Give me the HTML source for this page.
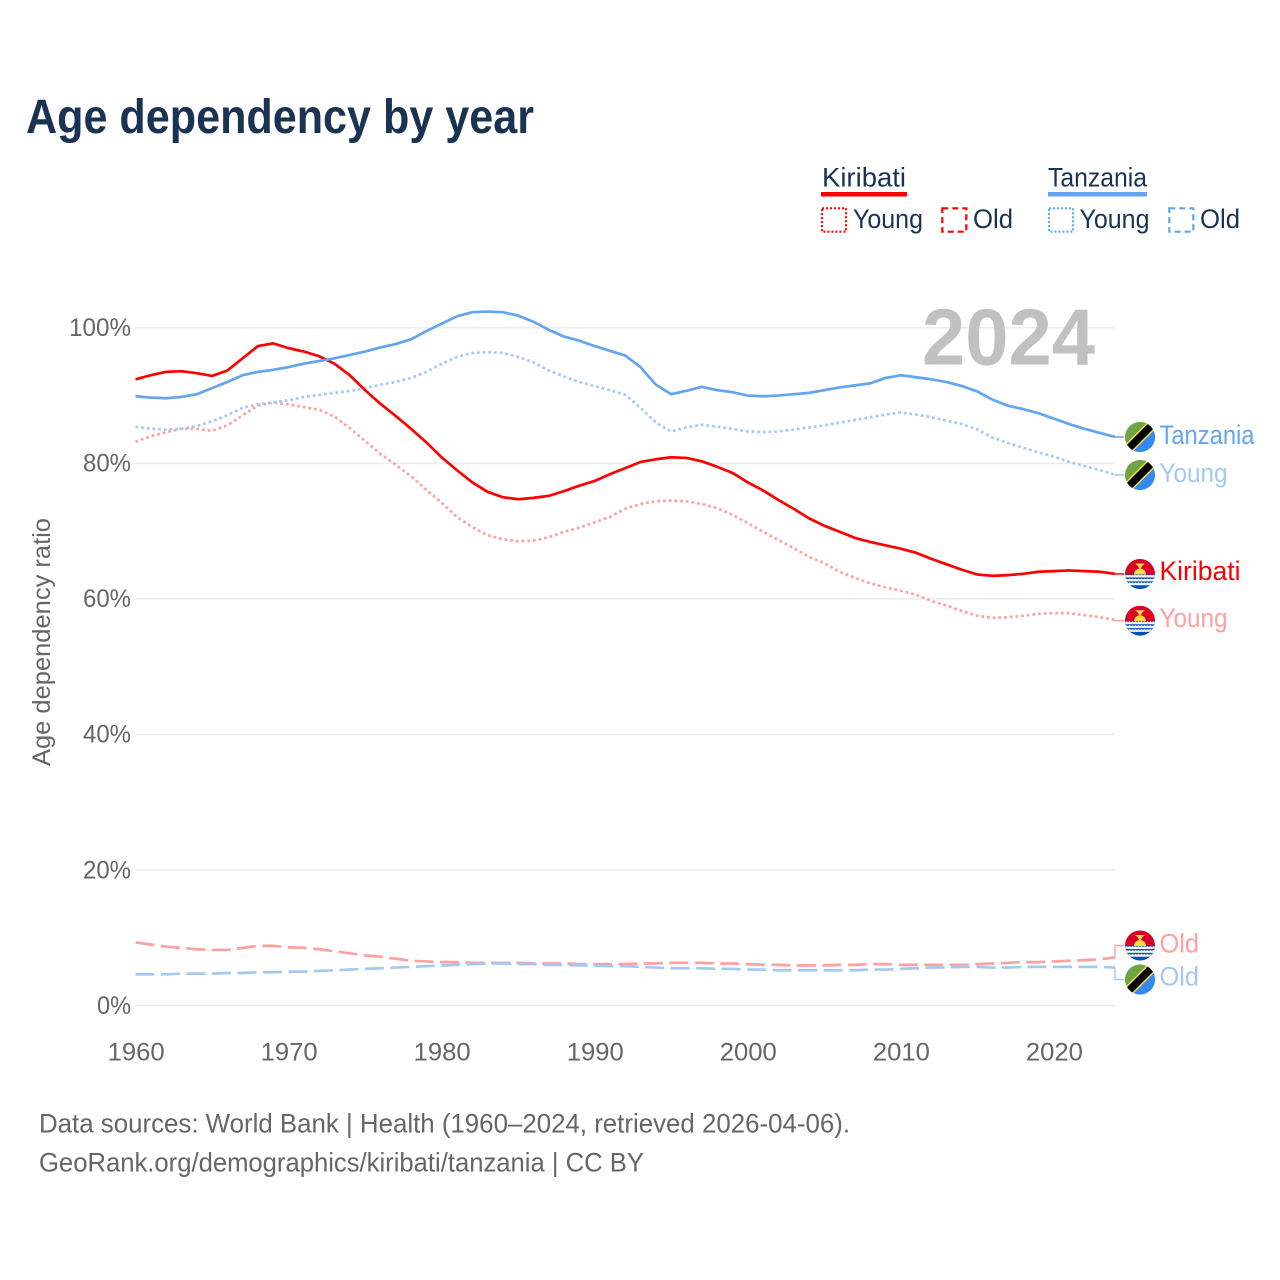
<!DOCTYPE html>
<html lang="en">
<head>
<meta charset="utf-8">
<title>Age dependency by year</title>
<style>
html,body{margin:0;padding:0;background:#fff;width:1280px;height:1280px;overflow:hidden}
svg{display:block}
text{font-family:"Liberation Sans",sans-serif}
</style>
</head>
<body>
<svg id="chart" xmlns="http://www.w3.org/2000/svg" width="1280" height="1280" viewBox="0 0 1280 1280">
  <defs>
    <clipPath id="flag-clip"><circle cx="0" cy="0" r="15"></circle></clipPath>
  </defs>
  <rect x="0" y="0" width="1280" height="1280" fill="#fff"></rect>
  <text x="26" y="133" font-size="48" font-weight="700" fill="#1a3353" textLength="508" lengthAdjust="spacingAndGlyphs">Age dependency by year</text>

  <g font-size="27" fill="#1a3353">
    <text x="822" y="186.5" textLength="84" lengthAdjust="spacingAndGlyphs">Kiribati</text>
    <rect x="821" y="192" width="86" height="4.5" fill="#ff0000"></rect>
    <rect x="822" y="208.3" width="24" height="23.4" fill="none" stroke="#ff0000" stroke-width="2.2" stroke-dasharray="2 2"></rect>
    <text x="853" y="228" textLength="70" lengthAdjust="spacingAndGlyphs">Young</text>
    <rect x="942.3" y="208.3" width="24" height="23.4" fill="none" stroke="#ff0000" stroke-width="2.2" stroke-dasharray="6 4"></rect>
    <text x="973" y="228" textLength="40" lengthAdjust="spacingAndGlyphs">Old</text>
    <text x="1048" y="186.5" textLength="99" lengthAdjust="spacingAndGlyphs">Tanzania</text>
    <rect x="1048" y="192" width="99" height="4.5" fill="#63a5ee"></rect>
    <rect x="1049" y="208.3" width="24" height="23.4" fill="none" stroke="#63a5ee" stroke-width="2.2" stroke-dasharray="2 2"></rect>
    <text x="1079.5" y="228" textLength="70" lengthAdjust="spacingAndGlyphs">Young</text>
    <rect x="1169.3" y="208.3" width="24" height="23.4" fill="none" stroke="#63a5ee" stroke-width="2.2" stroke-dasharray="6 4"></rect>
    <text x="1200" y="228" textLength="40" lengthAdjust="spacingAndGlyphs">Old</text>
  </g>

  <g id="grid"></g>
  <text x="922" y="364.5" font-size="80" font-weight="700" fill="#c1c1c1" textLength="173" lengthAdjust="spacingAndGlyphs">2024</text>
  <g id="yticks" font-size="25" fill="#666"></g>
  <g id="xticks" font-size="25" fill="#666"></g>
  <text transform="translate(50 766) rotate(-90)" font-size="25" fill="#666" textLength="248" lengthAdjust="spacingAndGlyphs">Age dependency ratio</text>
  <g id="series" fill="none"></g>
  <g id="end-labels" font-size="27"></g>

  <g font-size="26.5" fill="#666">
    <text x="39" y="1132.5" textLength="811" lengthAdjust="spacingAndGlyphs">Data sources: World Bank | Health (1960–2024, retrieved 2026-04-06).</text>
    <text x="39" y="1171.5" textLength="605" lengthAdjust="spacingAndGlyphs">GeoRank.org/demographics/kiribati/tanzania | CC BY</text>
  </g>
</svg>
<script>
const years = [];
for (let yr = 1960; yr <= 2024; yr++) years.push(yr);
const xTickYears = [1960, 1970, 1980, 1990, 2000, 2010, 2020];
const yTickValues = [0, 20, 40, 60, 80, 100];

const kiribatiTotal = [
  92.4,93.0,93.5,93.6,93.3,92.9,93.7,95.5,97.3,97.7,
  97.0,96.5,95.8,94.7,93.0,90.8,88.8,87.0,85.1,83.1,
  80.9,79.0,77.2,75.8,75.0,74.7,74.9,75.2,75.9,76.7,
  77.4,78.4,79.3,80.2,80.6,80.9,80.8,80.3,79.5,78.6,
  77.2,76.0,74.6,73.3,71.9,70.8,69.9,69.0,68.4,67.9,
  67.4,66.8,65.9,65.1,64.3,63.6,63.4,63.5,63.7,64.0,
  64.1,64.2,64.1,64.0,63.7
];
const kiribatiYoung = [
  83.2,84.0,84.6,85.1,85.1,84.8,85.6,87.1,88.5,89.0,
  88.7,88.3,87.9,86.9,85.2,83.3,81.4,79.8,78.1,76.1,
  74.2,72.1,70.6,69.4,68.8,68.5,68.6,69.1,69.9,70.5,
  71.3,72.1,73.3,74.0,74.4,74.5,74.4,74.0,73.4,72.4,
  71.2,69.9,68.7,67.5,66.2,65.3,64.0,63.1,62.3,61.7,
  61.2,60.6,59.7,59.0,58.2,57.5,57.2,57.3,57.5,57.8,
  57.9,57.9,57.6,57.3,56.9
];
const kiribatiOld = [
  9.3,9.0,8.7,8.5,8.3,8.2,8.2,8.5,8.8,8.8,
  8.6,8.5,8.3,8.0,7.7,7.4,7.2,6.9,6.6,6.5,
  6.4,6.4,6.3,6.3,6.3,6.3,6.2,6.2,6.2,6.1,
  6.1,6.1,6.1,6.2,6.2,6.3,6.3,6.3,6.2,6.2,
  6.1,6.0,6.0,5.9,5.9,5.9,6.0,6.0,6.1,6.1,
  6.0,6.0,6.0,6.0,6.0,6.1,6.2,6.3,6.4,6.4,
  6.5,6.6,6.7,6.8,7.1
];
const tanzaniaTotal = [
  89.9,89.7,89.6,89.8,90.2,91.1,92.0,93.0,93.5,93.8,
  94.2,94.7,95.1,95.5,96.0,96.5,97.1,97.6,98.3,99.5,
  100.6,101.7,102.3,102.4,102.3,101.8,100.9,99.7,98.7,98.1,
  97.3,96.6,95.9,94.2,91.6,90.2,90.7,91.3,90.8,90.5,
  90.0,89.9,90.0,90.2,90.4,90.8,91.2,91.5,91.8,92.6,
  93.0,92.7,92.4,92.0,91.4,90.6,89.4,88.5,88.0,87.4,
  86.6,85.8,85.1,84.5,83.9
];
const tanzaniaYoung = [
  85.4,85.1,85.0,85.1,85.5,86.2,87.1,88.2,88.7,89.0,
  89.3,89.8,90.1,90.4,90.7,91.1,91.6,92.0,92.6,93.5,
  94.7,95.7,96.3,96.4,96.3,95.7,94.9,93.7,92.8,92.0,
  91.4,90.8,90.1,88.2,86.0,84.7,85.3,85.7,85.4,85.1,
  84.7,84.6,84.7,85.0,85.3,85.6,86.0,86.4,86.8,87.2,
  87.5,87.2,86.8,86.3,85.8,85.0,83.8,83.0,82.3,81.6,
  81.0,80.2,79.6,79.0,78.3
];
const tanzaniaOld = [
  4.6,4.6,4.6,4.7,4.7,4.7,4.8,4.8,4.9,4.9,
  5.0,5.0,5.1,5.2,5.3,5.4,5.5,5.6,5.7,5.8,
  5.9,6.0,6.1,6.2,6.2,6.1,6.1,6.0,6.0,5.9,
  5.9,5.8,5.8,5.7,5.6,5.5,5.5,5.5,5.4,5.4,
  5.3,5.3,5.2,5.2,5.2,5.2,5.2,5.2,5.3,5.3,
  5.4,5.5,5.6,5.6,5.7,5.7,5.6,5.6,5.7,5.7,
  5.7,5.7,5.7,5.7,5.6
];

const NS = 'http://www.w3.org/2000/svg';
const RED = '#ff0000', BLUE = '#63a5ee', LRED = '#ffa0a0', LBLUE = '#a3c9f3';
const xScale = v => 135.5 + (v - 1960) * (1115 - 135.5) / 64;
const yScale = v => 1005.5 - v * 6.777;

function make(tag, attrs, parent) {
  const el = document.createElementNS(NS, tag);
  for (const k in attrs) el.setAttribute(k, attrs[k]);
  parent.appendChild(el);
  return el;
}
const gridG = document.getElementById('grid');
const yG = document.getElementById('yticks');
const xG = document.getElementById('xticks');
const seriesG = document.getElementById('series');
const labelsG = document.getElementById('end-labels');

yTickValues.forEach(v => {
  const line = make('line', {x1: 135.5, x2: 1115, y1: yScale(v), y2: yScale(v), stroke: '#ececec', 'stroke-width': 1.5}, gridG);
  
  
  const t = make('text', {x: 131, y: yScale(v) + 8.3, 'text-anchor': 'end', textLength: v === 100 ? 62 : (v === 0 ? 34 : 48), lengthAdjust: 'spacingAndGlyphs'}, yG);
  t.textContent = v + '%';
  
  
});
xTickYears.forEach(v => {
  const t = make('text', {x: xScale(v) + 0.6, y: 1060.5, 'text-anchor': 'middle', textLength: 57, lengthAdjust: 'spacingAndGlyphs'}, xG);
  t.textContent = String(v);
  
  
});

function linePath(values) {
  return values.map((v, i) => (i ? 'L' : 'M') + xScale(years[i]).toFixed(2) + ' ' + yScale(v).toFixed(2)).join('');
}
function drawSeries(values, color, dash) {
  const attrs = {d: linePath(values), stroke: color, 'stroke-width': 2.7, fill: 'none', 'stroke-linejoin': 'round'};
  if (dash) attrs['stroke-dasharray'] = dash;
  return make('path', attrs, seriesG);
}
let s;
s = drawSeries(kiribatiOld, LRED, '19 6.5');


s = drawSeries(tanzaniaOld, LBLUE, '19 6.5');


s = drawSeries(kiribatiYoung, LRED, '2.7 3');


s = drawSeries(tanzaniaYoung, LBLUE, '2.7 3');


s = drawSeries(kiribatiTotal, RED, null);


s = drawSeries(tanzaniaTotal, BLUE, null);



function leader(values, color, labelY) {
  const y0 = yScale(values[values.length - 1]);
  const d = 'M1115 ' + y0.toFixed(2) + 'L1115 ' + labelY + 'L1124 ' + labelY;
  return make('path', {d: d, stroke: color, 'stroke-width': 1.4, fill: 'none'}, seriesG);
}
function tanzaniaFlag(cy) {
  const g = make('g', {transform: 'translate(1140 ' + cy + ')', 'clip-path': 'url(#flag-clip)'}, labelsG);
  make('rect', {x: -15, y: -15, width: 30, height: 30, fill: '#6da544'}, g);
  make('polygon', {points: '15,-15 15,15 -15,15', fill: '#338af3'}, g);
  make('line', {x1: -16, y1: 16, x2: 16, y2: -16, stroke: '#ffda44', 'stroke-width': 10.5}, g);
  make('line', {x1: -16, y1: 16, x2: 16, y2: -16, stroke: '#000', 'stroke-width': 7.5}, g);
  return g;
}
function kiribatiFlag(cy) {
  const g = make('g', {transform: 'translate(1140 ' + cy + ')', 'clip-path': 'url(#flag-clip)'}, labelsG);
  make('rect', {x: -15, y: -15, width: 30, height: 17, fill: '#d80027'}, g);
  make('path', {d: 'M-6 0.5A6 6 0 0 1 6 0.5Z', fill: '#ffda44'}, g);
  make('path', {d: 'M-5 -10.5L5 -10.5L2 -8L1 -5.5L-1 -5.5L-2 -8Z', fill: '#ffda44'}, g);
  make('rect', {x: -15, y: 0.5, width: 30, height: 14.5, fill: '#0052b4'}, g);
  [1.5, 5.4, 9.2].forEach(wy => {
    let d = 'M-15 ' + wy;
    for (let wx = -15; wx < 15; wx += 3) d += 'q1.5 -1.6 3 0';
    make('path', {d: d + 'V' + (wy + 2) + 'H-15Z', fill: '#f0f0f0'}, g);
  });
  return g;
}
function endLabel(y, color, w) {
  return make('text', {x: 1159.5, y: y, fill: color, textLength: w, lengthAdjust: 'spacingAndGlyphs'}, labelsG);
}
let el;
el = leader(tanzaniaTotal, BLUE, 437);


el = leader(tanzaniaYoung, LBLUE, 475);


el = leader(kiribatiTotal, RED, 574);


el = leader(kiribatiYoung, LRED, 620.7);


el = leader(kiribatiOld, LRED, 945.5);


el = leader(tanzaniaOld, LBLUE, 979.5);



el = tanzaniaFlag(437);


el = tanzaniaFlag(475);


el = kiribatiFlag(574);


el = kiribatiFlag(620.7);


el = kiribatiFlag(945.5);


el = tanzaniaFlag(979.5);



el = endLabel(444, BLUE, 95);
el.textContent = 'Tanzania';


el = endLabel(482, LBLUE, 68);
el.textContent = 'Young';


el = endLabel(580, RED, 81);
el.textContent = 'Kiribati';


el = endLabel(627, LRED, 68);
el.textContent = 'Young';


el = endLabel(952.5, LRED, 39.5);
el.textContent = 'Old';


el = endLabel(985.5, LBLUE, 39.5);
el.textContent = 'Old';


</script>
</body>
</html>
